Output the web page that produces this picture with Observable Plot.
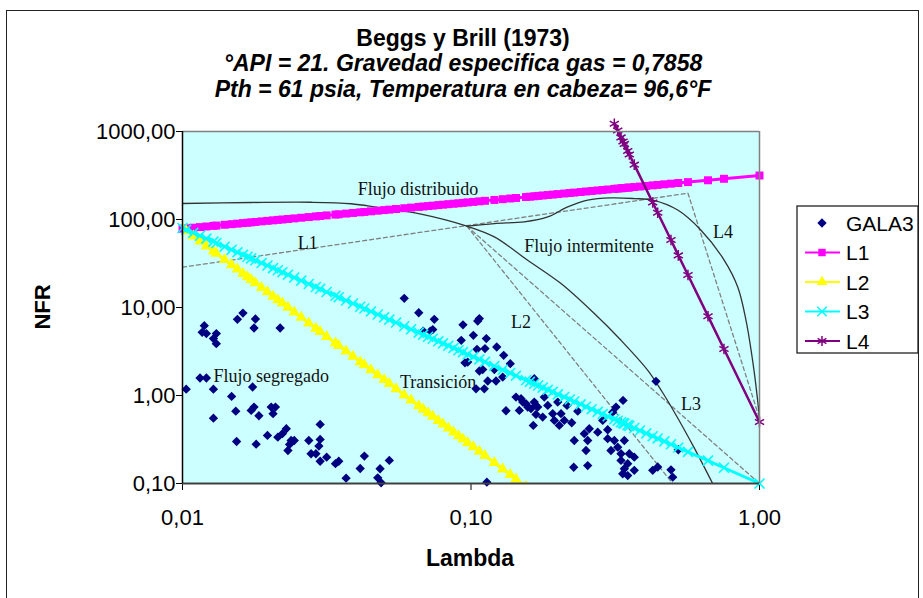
<!DOCTYPE html>
<html>
<head>
<meta charset="utf-8">
<script src="https://cdn.jsdelivr.net/npm/d3@7"></script>
<script src="https://cdn.jsdelivr.net/npm/@observablehq/plot@0.6"></script>
<style>
  html, body { margin: 0; padding: 0; background: #fff; }
  #wrap { position: relative; width: 923px; height: 598px; overflow: hidden; font-family: "Liberation Sans", Arial, sans-serif; }
  #frame { position: absolute; left: 6px; top: 10px; width: 913px; height: 620px; border: 1.5px solid #222; box-sizing: border-box; }
  #plot { position: absolute; left: 0; top: 0; }
  #overlay { position: absolute; left: 0; top: 0; pointer-events: none; }
</style>
</head>
<body>
<div id="wrap">
  <div id="frame"></div>
  <div id="plot"></div>
  <svg id="overlay" width="923" height="598"></svg>
</div>
<script>
// ---------- texts ----------
const titleLines = [
  "Beggs y Brill (1973)",
  "°API = 21. Gravedad especifica gas = 0,7858",
  "Pth = 61 psia, Temperatura en cabeza= 96,6°F"
];
const xLabel = "Lambda";
const yLabel = "NFR";
const xTickValues = [0.01, 0.1, 1];
const xTickLabels = ["0,01", "0,10", "1,00"];
const yTickValues = [0.1, 1, 10, 100, 1000];
const yTickLabels = ["0,10", "1,00", "10,00", "100,00", "1000,00"];
const seriesNames = ["GALA3", "L1", "L2", "L3", "L4"];

// ---------- GALA3 scatter ----------
const galaLambda = [
  0.0162,0.0155,0.0179,0.0177,0.0218,0.0119,0.0117,0.0121,0.0131,0.0128,0.0131,0.0115,0.0121,0.0103,0.0128,0.0175,
  0.0148,0.0153,0.0173,0.0177,0.0184,0.0203,0.0210,0.0206,0.0128,0.0300,0.0229,0.0222,0.0214,0.0197,0.0238,0.0244,
  0.0235,0.0232,0.0154,0.0180,0.0274,0.0300,0.0297,0.0279,0.0290,0.0300,0.0316,0.0339,0.0348,0.0427,0.0413,0.0369,
  0.0484,0.0521,0.0475,0.0488,0.0587,0.0659,0.0746,0.0737,0.0723,0.0683,0.0938,0.0925,0.0953,0.0974,0.1055,0.1069,
  0.1019,0.1130,0.1049,0.1118,0.1228,0.1298,0.1368,0.1069,0.1098,0.1205,0.1288,0.1143,0.1221,0.1041,0.1112,0.1657,
  0.1432,0.1491,0.1551,0.1680,0.1614,0.1680,0.1322,0.1644,0.1511,0.1657,0.1795,0.1703,0.1572,0.1471,0.1845,0.1998,
  0.2152,0.1920,0.2051,0.2106,0.1945,0.1772,0.2344,0.2234,0.2023,0.3365,0.3181,0.3098,0.2861,0.2570,0.2470,0.2538,
  0.2504,0.2280,0.2750,0.2977,0.2977,0.3139,0.3400,0.3225,0.3056,0.3311,0.3538,0.3681,0.3311,0.3493,0.3400,0.3681,
  0.3357,0.3493,0.2538,0.2270,0.4264,0.4437,0.4934,0.5003,0.4377,0.5231,0.1135
];
const galaNFR = [
  8.65,7.34,7.40,5.85,5.85,6.22,5.22,5.05,5.05,4.43,3.88,1.58,1.58,1.18,1.18,1.25,
  0.977,0.664,0.677,0.738,0.589,0.738,0.738,0.621,0.553,0.469,0.419,0.368,0.336,0.352,0.308,0.308,
  0.278,0.237,0.300,0.280,0.308,0.317,0.266,0.218,0.218,0.179,0.199,0.168,0.179,0.205,0.148,0.115,
  0.147,0.183,0.116,0.102,12.7,8.71,7.34,5.61,5.40,5.40,6.36,4.24,2.35,2.40,7.02,7.48,
  4.83,4.43,3.35,3.41,3.56,2.86,2.30,1.90,1.97,1.97,1.62,1.46,1.46,1.19,1.19,1.55,
  0.959,0.919,0.807,0.772,0.708,0.610,0.671,0.457,0.841,0.841,0.959,0.738,0.738,0.677,0.772,0.841,
  0.772,0.621,0.621,0.521,0.521,0.568,0.664,0.490,0.457,0.880,0.738,0.647,0.521,0.419,0.368,0.308,
  0.237,0.308,0.383,0.408,0.323,0.308,0.308,0.259,0.237,0.218,0.218,0.199,0.183,0.168,0.147,0.141,
  0.129,0.123,0.160,0.153,0.141,0.154,0.143,0.118,1.45,0.242,0.1035
];

// ---------- L1 / L2 / L3 lines (markers at these lambdas) ----------
const lineLambda = [
  0.0100,0.0103,0.0109,0.0115,0.0121,0.0128,0.0131,0.0140,
  0.0148,0.0155,0.0162,0.0168,0.0173,0.0179,0.0188,0.0197,
  0.0206,0.0214,0.0222,0.0232,0.0244,0.0258,0.0274,0.0290,
  0.0300,0.0316,0.0339,0.0348,0.0369,0.0390,0.0413,0.0427,
  0.0450,0.0475,0.0500,0.0521,0.0550,0.0587,0.0620,0.0659,
  0.0683,0.0710,0.0737,0.0770,0.0800,0.0835,0.0870,0.0905,
  0.0938,0.0974,0.1019,0.1069,0.1118,0.1205,0.1288,0.1368,
  0.1432,0.1551,0.1600,0.1657,0.1710,0.1772,0.1845,0.1920,
  0.2000,0.2106,0.2200,0.2280,0.2400,0.2504,0.2620,0.2750,
  0.2860,0.2977,0.3139,0.3225,0.3311,0.3365,0.3400,0.3493,
  0.3538,0.3681,0.3850,0.4050,0.4264,0.4437,0.4680,0.4934,
  0.5231,0.5650,0.6630,0.7530,1.0000
];
const l1Values = [
  78.7,79.4,80.7,82.0,83.3,84.7,85.3,87.1,
  88.5,89.7,91.0,91.9,92.8,93.8,95.2,96.5,
  97.8,99.0,100.0,101.4,102.9,104.7,106.6,108.4,
  109.6,111.4,113.7,114.6,116.7,118.7,120.7,121.9,
  123.9,125.9,127.9,129.5,131.6,134.3,136.5,139.0,
  140.5,142.2,143.7,145.7,147.4,149.3,151.1,152.9,
  154.6,156.5,158.5,160.9,163.0,166.8,170.2,173.3,
  175.7,180.0,181.6,183.6,185.4,187.4,189.7,191.9,
  194.4,197.3,200.1,202.2,205.4,208.1,210.9,213.9,
  216.6,219.2,222.7,224.5,226.3,227.5,228.0,229.9,
  230.9,233.7,236.9,240.6,244.3,247.2,251.2,255.3,
  260.0,266.0,279.1,290.1,316.0
];
// L2 uses the first lambdas of lineLambda (it leaves the chart at about 0.15)
const l2Values = [
  80.0,74.3,64.7,56.6,49.9,43.6,41.2,34.9,
  30.4,27.2,24.3,22.2,20.7,19.0,16.8,15.0,
  13.4,12.2,11.2,10.05,8.87,7.71,6.64,5.79,
  5.32,4.67,3.93,3.68,3.19,2.78,2.41,2.23,
  1.95,1.71,1.51,1.36,1.19,1.01,0.885,0.761,
  0.697,0.633,0.579,0.519,0.472,0.425,0.384,0.348,
  0.319,0.290,0.260,0.231,0.207,0.172,0.146,0.126,
  0.112,0.0919
];
const l3Values = [
  80.0,76.6,70.6,65.3,60.6,56.0,54.1,49.1,
  45.3,42.4,39.7,37.7,36.1,34.4,32.0,30.0,
  28.0,26.5,25.2,23.6,21.9,20.2,18.5,17.1,
  16.3,15.0,13.6,13.1,12.0,11.1,10.2,9.74,
  9.02,8.33,7.74,7.29,6.74,6.12,5.66,5.18,
  4.92,4.65,4.41,4.13,3.91,3.68,3.46,3.27,
  3.11,2.94,2.75,2.57,2.41,2.16,1.96,1.80,
  1.68,1.49,1.43,1.36,1.30,1.23,1.16,1.10,
  1.03,0.961,0.901,0.855,0.794,0.745,0.699,0.652,
  0.615,0.580,0.537,0.517,0.497,0.486,0.479,0.461,
  0.452,0.427,0.400,0.371,0.344,0.325,0.301,0.279,
  0.256,0.229,0.182,0.151,0.100
];
const l4Lambda = [0.3139,0.3225,0.3311,0.3365,0.3400,0.3493,0.3538,0.3681,0.4264,0.4437,0.4934,0.5231,0.5650,0.6630,0.7530,1.0000];
const l4Values = [1225,1025,857,769,723,600,548,420,156,119.5,58.6,39.1,23.4,7.97,3.38,0.50];

// ---------- flow-pattern map boundaries ----------
const dashL1x = [0.01, 0.565], dashL1y = [28.7, 199];
const dashL4x = [0.565, 1.0], dashL4y = [199, 0.55];
const dashL2x = [0.0968, 0.50], dashL2y = [84, 0.1];
const dashL3x = [0.0968, 1.0], dashL3y = [84, 0.1];
const segBoundX = [0.01,0.0173,0.0279,0.0384,0.0475,0.0671,0.0968,0.1205,0.1572,0.2051,0.2676,0.3311,0.41,0.459,0.517,0.592,0.688];
const segBoundY = [152,156,157,151,137,115,84,63.4,34.4,18.7,8.53,4.24,1.93,1.11,0.578,0.259,0.1];
const distBoundX = [0.0968,0.1205,0.153,0.1845,0.2164,0.2538,0.3056,0.3681,0.4264,0.5206,0.627,0.755,0.8405,0.898,0.957,1.0];
const distBoundY = [84,90,94,107,139,166,176,173,166,128,75.5,34.4,17.1,7.15,1.93,0.56];

// ---------- region labels ----------
const regionText = ["Flujo distribuido","L1","Flujo intermitente","L4","L2","L3","Flujo segregado","Transición"];
const regionX = [0.0655,0.0272,0.2564,0.747,0.149,0.579,0.0203,0.0769];
const regionY = [221,53.7,49.7,71.7,6.79,0.792,1.65,1.41];

// ---------- build ----------
const tbl = (xs, ys) => ys.map((y, i) => ({x: xs[i], y}));
const gala = tbl(galaLambda, galaNFR);
const t1 = tbl(lineLambda, l1Values);
const t2 = tbl(lineLambda, l2Values);
const t3 = tbl(lineLambda, l3Values);
const t4 = tbl(l4Lambda, l4Values);
const labels = regionText.map((t, i) => ({t, x: regionX[i], y: regionY[i]}));

const colors = {GALA3: "#000080", L1: "#FF00FF", L2: "#FFFF00", L3: "#00FFFF", L4: "#800080"};
const dashStyle = {x: "x", y: "y", stroke: "#808080", strokeWidth: 1.3, strokeDasharray: "4,3"};
const curveStyle = {x: "x", y: "y", stroke: "#333", strokeWidth: 1.3, curve: "catmull-rom"};

const chart = Plot.plot({
  width: 923,
  height: 598,
  marginLeft: 182,
  marginRight: 164,
  marginTop: 131,
  marginBottom: 115,
  style: {background: "transparent", fontFamily: "'Liberation Sans', Arial, sans-serif", fontSize: "22px", color: "#000", overflow: "visible"},
  x: {type: "log", domain: [0.01, 1], ticks: xTickValues, tickFormat: d => xTickLabels[xTickValues.indexOf(d)], tickSize: 7, tickPadding: 19, label: null},
  y: {type: "log", domain: [0.1, 1000], ticks: yTickValues, tickFormat: d => yTickLabels[yTickValues.indexOf(d)], tickSize: 6, tickPadding: 1, label: null},
  marks: [
    Plot.frame({fill: "#CCFFFF"}),
    Plot.line(tbl(dashL1x, dashL1y), dashStyle),
    Plot.line(tbl(dashL4x, dashL4y), dashStyle),
    Plot.line(tbl(dashL2x, dashL2y), dashStyle),
    Plot.line(tbl(dashL3x, dashL3y), dashStyle),
    Plot.line(tbl(segBoundX, segBoundY), curveStyle),
    Plot.line(tbl(distBoundX, distBoundY), curveStyle),
    Plot.text(labels, {x: "x", y: "y", text: "t", fontFamily: "'Liberation Serif', 'Times New Roman', serif", fontSize: 18, fill: "#111"}),
    Plot.dot(gala, {x: "x", y: "y", symbol: "diamond2", r: 4.2, fill: colors.GALA3, stroke: "none"}),
    Plot.line(t1, {x: "x", y: "y", stroke: colors.L1, strokeWidth: 3}),
    Plot.dot(t1, {x: "x", y: "y", symbol: "square", r: 4.5, fill: colors.L1, stroke: "none"}),
    Plot.line(t2, {x: "x", y: "y", stroke: colors.L2, strokeWidth: 3, clip: true}),
    Plot.dot(t2, {x: "x", y: "y", symbol: "triangle", r: 4.3, fill: colors.L2, stroke: "none", clip: true}),
    Plot.line(t3, {x: "x", y: "y", stroke: colors.L3, strokeWidth: 3}),
    Plot.dot(t3, {x: "x", y: "y", symbol: "times", r: 4.6, fill: "none", stroke: colors.L3, strokeWidth: 1.6}),
    Plot.line(t4, {x: "x", y: "y", stroke: colors.L4, strokeWidth: 2.5}),
    Plot.dot(t4, {x: "x", y: "y", symbol: "asterisk", r: 5, fill: "none", stroke: colors.L4, strokeWidth: 1.5}),
    Plot.ruleY([1000], {stroke: "#808080", strokeWidth: 1.5}),
    Plot.ruleX([1], {stroke: "#808080", strokeWidth: 1.5}),
    Plot.ruleY([0.1], {stroke: "#404040", strokeWidth: 2}),
    Plot.ruleX([0.01], {stroke: "#000", strokeWidth: 1.5})
  ]
});
document.getElementById("plot").appendChild(chart);

// ---------- overlay: title, axis labels, legend ----------
const ov = d3.select("#overlay");
const titleY = [46, 71, 97];
titleLines.forEach((t, i) => {
  ov.append("text")
    .attr("x", 463).attr("y", titleY[i])
    .attr("text-anchor", "middle")
    .attr("font-family", "'Liberation Sans', Arial, sans-serif")
    .attr("font-size", 23).attr("font-weight", "bold")
    .attr("font-style", i === 0 ? "normal" : "italic")
    .text(t);
});
ov.append("text")
  .attr("transform", "translate(50,307) rotate(-90)")
  .attr("text-anchor", "middle")
  .attr("font-family", "'Liberation Sans', Arial, sans-serif")
  .attr("font-size", 22).attr("font-weight", "bold")
  .text(yLabel);
ov.append("text")
  .attr("x", 470).attr("y", 566)
  .attr("text-anchor", "middle")
  .attr("font-family", "'Liberation Sans', Arial, sans-serif")
  .attr("font-size", 23).attr("font-weight", "bold")
  .text(xLabel);

const lg = ov.append("g");
lg.append("rect").attr("x", 797).attr("y", 206).attr("width", 121).attr("height", 147)
  .attr("fill", "#fff").attr("stroke", "#222").attr("stroke-width", 1.3);
const legendY = [223, 252.5, 282, 311.5, 341];
const legendSym = [
  {sym: d3.symbolDiamond2, r: 4.2, fill: colors.GALA3, stroke: "none", line: false},
  {sym: d3.symbolSquare, r: 4.2, fill: colors.L1, stroke: "none", line: true},
  {sym: d3.symbolTriangle, r: 4, fill: colors.L2, stroke: "none", line: true},
  {sym: d3.symbolTimes, r: 4.4, fill: "none", stroke: colors.L3, line: true},
  {sym: d3.symbolAsterisk, r: 4.8, fill: "none", stroke: colors.L4, line: true}
];
seriesNames.forEach((name, i) => {
  const s = legendSym[i];
  const c = colors[name];
  const y = legendY[i];
  if (s.line) lg.append("line").attr("x1", 805).attr("x2", 840).attr("y1", y).attr("y2", y).attr("stroke", c).attr("stroke-width", 2);
  lg.append("path").attr("transform", `translate(822,${y})`)
    .attr("d", d3.symbol(s.sym, Math.PI * s.r * s.r)())
    .attr("fill", s.fill).attr("stroke", s.stroke).attr("stroke-width", 1.5);
  lg.append("text").attr("x", 846).attr("y", y + 7.5)
    .attr("font-family", "'Liberation Sans', Arial, sans-serif").attr("font-size", 21)
    .text(name);
});
</script>
</body>
</html>
